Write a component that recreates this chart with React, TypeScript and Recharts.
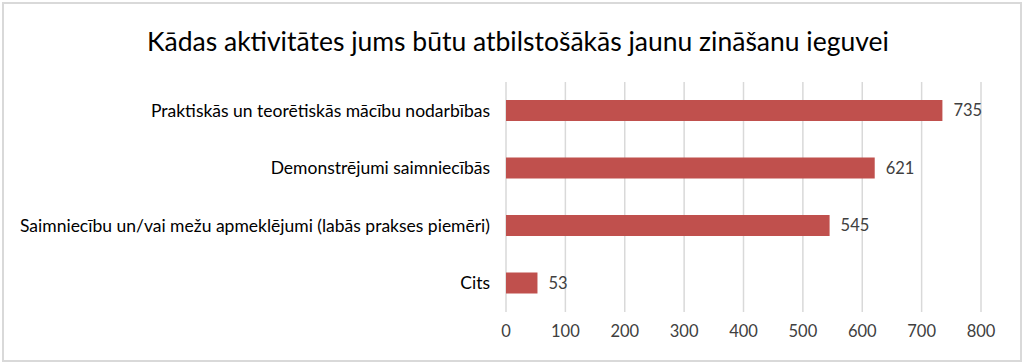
import React from 'react';
import { BarChart, Bar, XAxis, YAxis, CartesianGrid, LabelList } from 'recharts';

const categories = [
  'Praktiskās un teorētiskās mācību nodarbības',
  'Demonstrējumi saimniecībās',
  'Saimniecību un/vai mežu apmeklējumi (labās prakses piemēri)',
  'Cits',
];
const counts = [735, 621, 545, 53];
const xTicks = [0, 100, 200, 300, 400, 500, 600, 700, 800];

const FONT = 'Lato, "Noto Sans", sans-serif';

const data = categories.map((name, i) => ({ name, value: counts[i] }));

export default function App() {
  return (
    <div
      style={{
        position: 'absolute',
        left: 0,
        top: 0,
        width: 1024,
        height: 364,
        background: '#fff',
        fontFamily: FONT,
      }}
    >
      {/* outer frame */}
      <div
        style={{
          position: 'absolute',
          left: 2,
          top: 2,
          width: 1016,
          height: 356,
          border: '2px solid #d9d9d9',
        }}
      />
      {/* title */}
      <div
        style={{
          position: 'absolute',
          left: 0,
          top: 22,
          width: 1036,
          textAlign: 'center',
          fontSize: 26.5,
          color: '#000',
          lineHeight: '38px',
        }}
      >
        Kādas aktivitātes jums būtu atbilstošākās jaunu zināšanu ieguvei
      </div>
      <div style={{ position: 'absolute', left: 0, top: 0 }}>
        <BarChart
          width={1024}
          height={364}
          data={data}
          layout="vertical"
          margin={{ top: 82, right: 43, bottom: 22, left: 0 }}
        >
          <CartesianGrid horizontal={false} stroke="#d9d9d9" strokeWidth={1.5} />
          <XAxis
            type="number"
            domain={[0, 800]}
            ticks={xTicks}
            axisLine={false}
            tickLine={false}
            height={30}
            tickMargin={7}
            tick={{ fill: '#404040', fontSize: 16.5, fontFamily: FONT }}
          />
          <YAxis
            type="category"
            dataKey="name"
            width={506}
            axisLine={false}
            tickLine={false}
            tickMargin={10}
            tick={{ fill: '#000', fontSize: 17.5, fontFamily: FONT }}
          />
          <Bar dataKey="value" fill="#c0504d" barSize={21} isAnimationActive={false}>
            <LabelList
              dataKey="value"
              position="right"
              offset={11}
              style={{ fill: '#404040', fontSize: 16.5, fontFamily: FONT }}
            />
          </Bar>
        </BarChart>
      </div>
    </div>
  );
}
